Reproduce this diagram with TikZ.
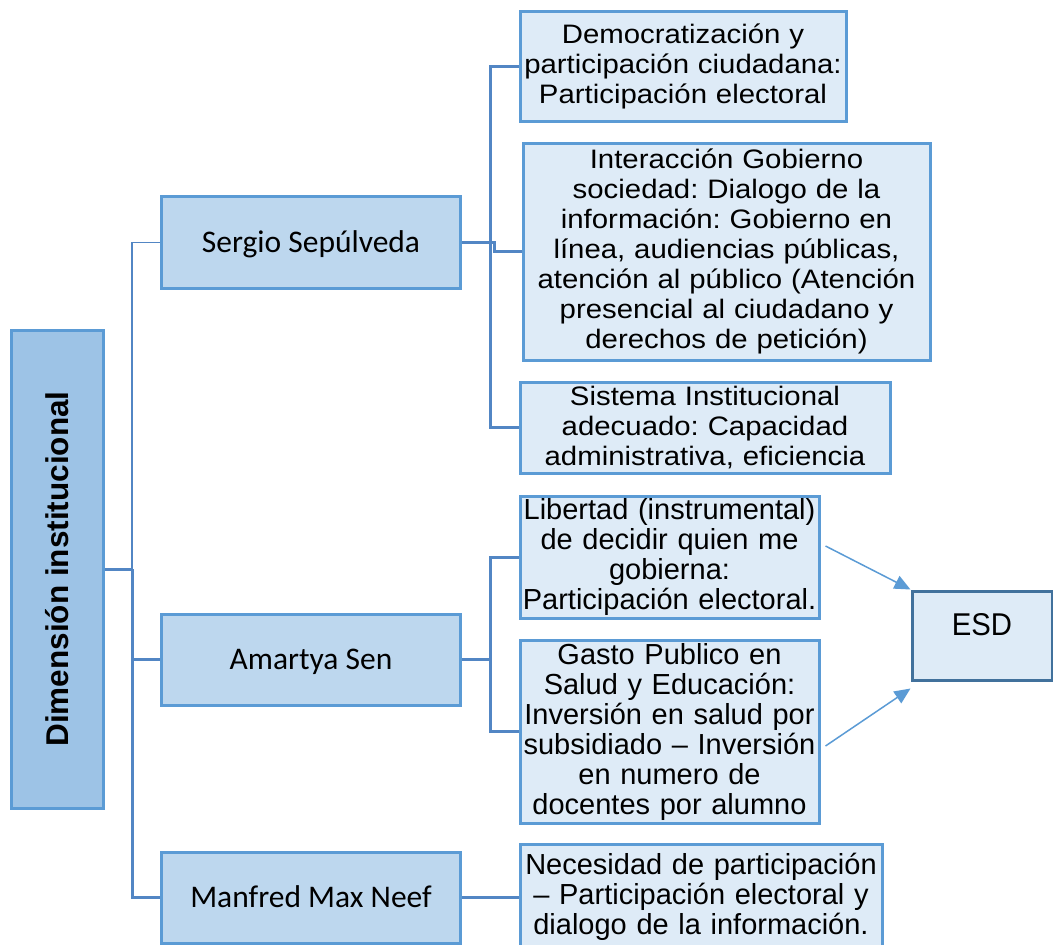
\documentclass[tikz,border=0pt]{standalone}
\usepackage{fontspec}
\setmainfont{Liberation Sans}
\newfontfamily\calibri{Carlito}
\newfontfamily\wide[FakeStretch=1.1]{Liberation Sans}
\newfontfamily\tall[FakeStretch=0.93]{Liberation Sans}
\usetikzlibrary{arrows.meta}
\definecolor{bd}{HTML}{5B9BD5}
\definecolor{cb}{HTML}{5286C4}
\definecolor{esdb}{HTML}{41719C}
\definecolor{dimfill}{HTML}{9DC3E6}
\definecolor{midfill}{HTML}{BDD7EE}
\definecolor{lightfill}{HTML}{DEEBF7}
\frenchspacing
\begin{document}
\begin{tikzpicture}[x=1pt,y=-1pt,
  box/.style={draw=bd, line width=3pt, inner sep=0pt, align=center},
  dimbox/.style={box, fill=dimfill, font=\bfseries\fontsize{31.5}{36}\selectfont},
  midbox/.style={box, fill=midfill, minimum width=299pt, font=\calibri\fontsize{31.5}{36}\selectfont, text height=30pt, text depth=10pt},
  lightbox/.style={box, fill=lightfill, font=\fontsize{29}{30}\selectfont},
  widebox/.style={lightbox, font=\wide\fontsize{26.7}{30}\selectfont},
  esdbox/.style={box, draw=esdb, fill=lightfill, minimum width=140pt, font=\tall\fontsize{31.5}{34}\selectfont, text height=44.5pt, text depth=44.5pt},
  conn/.style={draw=cb, line width=3pt},
  thinconn/.style={draw=cb, line width=1.2pt},
  arr/.style={draw=bd, line width=1.5pt, -{Triangle[length=16pt,width=14pt]}, fill=bd}
]
\useasboundingbox (0,0) rectangle (1053,945);
\clip (0,0) rectangle (1053,945);

\node[dimbox, minimum width=92pt, minimum height=478pt] (dim) at (57,569) {\rotatebox{90}{Dimensión institucional}};

\node[midbox, minimum height=92pt] (ser) at (311,242.5) {Sergio Sepúlveda};
\node[midbox, minimum height=91pt] (ama) at (311,659.5) {Amartya Sen};
\node[midbox, minimum height=91pt] (man) at (311,897.5) {Manfred Max Neef};

\node[widebox, text width=326pt, minimum height=110pt] (d1) at (683,66)
  {Democratización y\\participación ciudadana:\\Participación electoral};
\node[widebox, text width=407pt, minimum height=217pt] (d2) at (726.5,251.5)
  {Interacción Gobierno\\sociedad: Dialogo de la\\información: Gobierno en\\línea, audiencias públicas,\\atención al público (Atención\\presencial al ciudadano y\\derechos de petición)};
\node[widebox, text width=370pt, minimum height=91pt] (d3) at (705,427.5)
  {Sistema Institucional\\adecuado: Capacidad\\administrativa, eficiencia};
\node[lightbox, text width=299pt, minimum height=122pt] (l1) at (669.5,557)
  {Libertad (instrumental)\\de decidir quien me\\gobierna:\\Participación electoral.};
\node[lightbox, text width=299pt, minimum height=183pt] (l2) at (669.5,731.5)
  {Gasto Publico en\\Salud y Educación:\\Inversión en salud por\\subsidiado – Inversión\\en numero de\\docentes por alumno};
\node[lightbox, text width=362pt, minimum height=105pt] (n1) at (701,896.5)
  {Necesidad de participación\\– Participación electoral y\\dialogo de la información.};

\node[esdbox] (esd) at (982,635.5) {ESD};

% left tree
\coordinate (lv) at (132,569);
\draw[conn] (dim.east) -- (lv);
\draw[conn] (lv) -- (lv |- man.west) -- (man.west);
\draw[conn] (lv |- ama.west) -- (ama.west);
\draw[thinconn] (lv) -- (lv |- ser.west) -- (ser.west);

% right brackets
\coordinate (rv) at (490,0);
\draw[conn] (d1.west) -- (rv |- d1.west) -- (rv |- d3.west) -- (d3.west);
\draw[conn] (ser.east) -- ++(32,0) coordinate (sj) -- (sj |- d2.west) -- (d2.west);
\draw[conn] (l1.west) -- (rv |- l1.west) -- (rv |- l2.west) -- (l2.west);
\draw[conn] (ama.east) -- (rv |- ama.east);
\draw[conn] (man.east) -- (man.east -| n1.west);

% arrows to ESD
\draw[arr] ([xshift=5pt,yshift=11pt]l1.east) -- (esd.north west);
\draw[arr] ([xshift=5pt,yshift=-14.5pt]l2.east) -- ([yshift=-7pt]esd.south west);
\end{tikzpicture}
\end{document}
